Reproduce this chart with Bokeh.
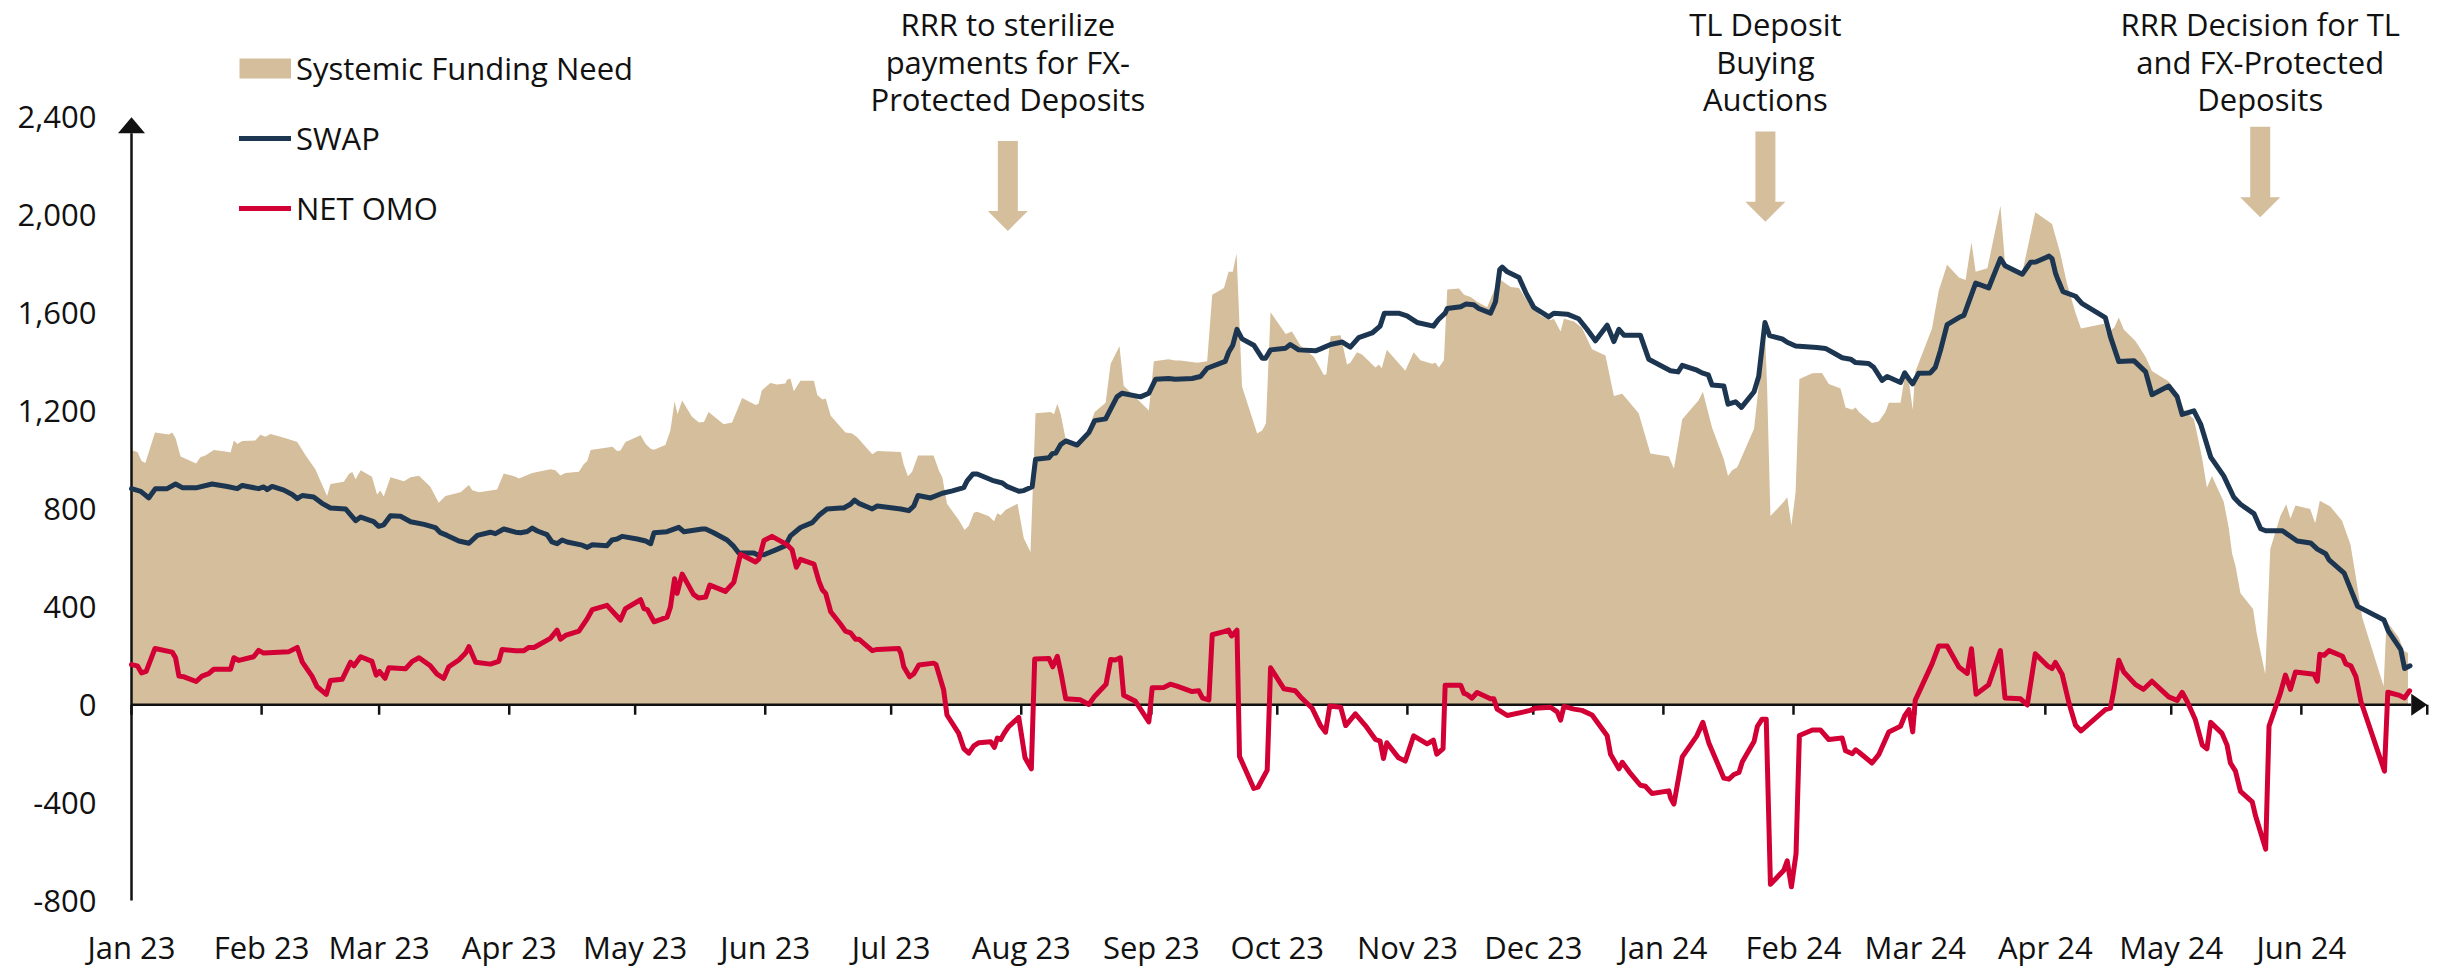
import pandas as pd
from bokeh.plotting import figure
from bokeh.models import Range1d, FixedTicker, NumeralTickFormatter, Legend, LegendItem
from bokeh.embed import file_html
from bokeh.resources import INLINE
from bokeh.core.properties import value

# ---------------- data (x = days since 1 Jan 2023) ----------------
sfn_day = [0, 1.4, 2.4, 3.3, 5.6, 8.9, 9.7, 10.5, 11.7, 15.4, 16.4, 17.6, 19.6, 22.4, 23.6, 24.4, 25.2, 26.4, 29.5, 30.7,
           31.9, 33.1, 35.9, 37.3, 39.5, 41.5, 43.8, 46.6, 47.4, 50.6, 51.8, 52.6, 53.4, 54.6, 57.3, 58.5, 59.3, 60.1, 61.7, 64.9,
           66.5, 68.5, 71.2, 73.2, 74.8, 78.4, 80.4, 81.2, 82.8, 87.1, 88.7, 91.5,
           92.3, 95.5, 99.8, 101.0, 102.2, 103.4, 106.6, 107.8, 108.6, 109.4, 114.6, 115.7, 116.5, 117.7, 121.3, 122.5, 123.7, 124.5,
           127.2, 128.4, 129.4, 130.1, 131.2, 133.5, 135.2, 136.4, 137.5, 141.1, 143.1, 145.5, 148.7, 149.4, 150.2, 152.2, 153.8, 155.8,
           156.2, 157.0, 157.8, 159.4, 162.6, 163.4, 164.6, 165.4, 166.6, 169.0, 170.1, 171.7, 172.9, 176.5, 177.7, 183.3,
           184.0, 185.0, 186.0, 187.4, 191.1, 192.4, 193.2, 194.3, 197.1, 198.5, 199.5, 200.7, 201.5, 204.3, 205.5, 206.3, 207.1, 208.3,
           211.1, 212.6, 214.2, 215.4, 219.0, 219.8, 220.6, 221.4, 222.6, 225.3, 227.7, 229.5, 232.1, 233.3, 235.4, 236.4, 242.4, 243.6,
           247.1, 248.7, 249.9, 253.9, 256.3, 257.5, 260.3, 261.4, 262.4, 263.3, 264.6, 268.2, 269.4, 270.3, 271.4, 275.0,
           276.5, 278.5, 281.7, 284.1, 284.7, 285.7, 288.1, 289.6, 290.4, 292.0, 293.2, 296.4, 297.2, 297.9, 299.1, 303.5, 305.5, 307.1,
           309.9, 310.7, 311.5, 312.7, 313.5, 316.3, 317.5, 319.1, 320.6, 323.0, 325.8, 328.6, 330.6, 333.0, 335.7, 338.1, 338.9, 340.5,
           341.3, 343.7, 345.6, 348.0, 351.2, 353.2, 355.2, 359.1, 361.9, 366.3,
           367.5, 369.5, 373.4, 374.4, 376.6, 379.4, 380.4, 381.4, 382.6, 386.6, 387.7, 389.2, 389.7, 390.5, 393.7, 394.5, 395.5, 396.5,
           397.4, 400.5, 402.8, 404.4, 407.2, 408.4, 410.0, 410.8, 411.6, 414.7, 416.3, 417.9, 418.7, 421.5, 422.7, 423.5, 424.4, 425.0,
           429.0, 430.6, 432.6, 435.4, 437.0, 438.4, 439.4, 442.2, 445.3, 446.4, 450.5, 453.6, 457.6,
           459.6, 461.2, 463.2, 464.5, 470.0, 470.7, 472.5, 473.5, 474.7, 477.5, 479.9, 481.4, 485.4, 487.4, 489.0, 491.4, 492.6, 493.4,
           494.5, 495.7, 498.5, 499.7, 500.5, 501.3, 502.5, 505.5, 506.4, 508.4, 509.6, 512.0, 513.4, 514.4, 515.6, 519.1, 520.3, 521.4,
           523.9, 526.7, 528.7, 529.9, 531.5, 536.6, 537.3, 540.2, 541.4, 542.4]
sfn_val = [1040, 1033, 996, 988, 1112, 1104, 1112, 1089, 1014, 986, 1011, 1018, 1041, 1035, 1031, 1080, 1065, 1078, 1080, 1103,
           1095, 1106, 1093, 1086, 1074, 1018, 962, 853, 902, 911, 943, 951, 921, 958, 932, 859, 875, 851, 930, 913,
           930, 936, 891, 825, 853, 868, 898, 876, 868, 879, 945, 932,
           924, 947, 962, 958, 937, 947, 952, 984, 996, 1041, 1054, 1037, 1039, 1074, 1101, 1065, 1046, 1042,
           1061, 1121, 1240, 1187, 1243, 1178, 1153, 1155, 1196, 1146, 1153, 1253, 1225, 1230, 1285, 1315, 1309, 1313,
           1328, 1333, 1281, 1324, 1324, 1266, 1247, 1251, 1181, 1134, 1112, 1108, 1093, 1024, 1037, 1033,
           981, 934, 952, 1018, 1018, 956, 928, 821, 755, 714, 731, 784, 789, 770, 750, 782, 774, 797,
           821, 680, 624, 1191, 1196, 1187, 1230, 1187, 1084, 1061, 1112, 1196, 1234, 1393, 1465, 1303, 1202, 1403,
           1412, 1407, 1407, 1397, 1403, 1675, 1703, 1769, 1769, 1844, 1300, 1108, 1121, 1149, 1604, 1515,
           1525, 1468, 1422, 1347, 1350, 1506, 1510, 1390, 1397, 1440, 1431, 1378, 1390, 1375, 1450, 1365, 1440, 1408,
           1393, 1397, 1378, 1408, 1697, 1701, 1675, 1666, 1647, 1624, 1741, 1707, 1703, 1637, 1590, 1572, 1577, 1525,
           1577, 1566, 1540, 1453, 1427, 1262, 1271, 1191, 1027, 1014,
           964, 1167, 1244, 1279, 1132, 1003, 935, 958, 970, 1128, 1302, 1524, 1302, 771, 829, 848, 732, 868,
           1331, 1354, 1356, 1311, 1292, 1215, 1205, 1215, 1196, 1151, 1157, 1196, 1234, 1234, 1360, 1321, 1205, 1360,
           1537, 1692, 1798, 1746, 1736, 1890, 1769, 1784, 2039, 1804, 1765, 2012, 1964,
           1842, 1717, 1601, 1537, 1557, 1514, 1543, 1582, 1533, 1485, 1421, 1364, 1321, 1273, 1205, 1167, 1070, 1003,
           887, 935, 829, 723, 617, 568, 456, 391, 288, 125, 636, 771, 819, 761, 814, 800, 742, 833,
           810, 752, 655, 530, 356, 76, 341, 275, 221, 211]

swap_day = [0, 2.2, 4.1, 5.7, 8.5, 10.5, 12.1, 15.6, 19.2, 22.8, 25.2, 26.4, 30.3, 31.5, 32.3, 33.5, 36.3, 38.3, 39.5, 40.7,
            43.4, 45.4, 47.4, 51.0, 53.4, 54.6, 57.7, 58.9, 60.1, 61.7, 64.1, 66.5, 69.7, 72.4, 73.6, 75.2, 78.0, 80.4, 82.4, 85.5,
            86.7, 88.7, 91.5,
            92.7, 94.3, 95.5, 96.7, 99.0, 100.2, 101.4, 102.6, 103.8, 107.4, 108.6, 109.8, 113.3, 114.5, 115.7, 116.9, 120.5, 122.5,
            123.7, 124.5, 127.6, 130.4, 131.6, 136.0, 136.8, 138.7, 141.9, 143.5, 144.7, 148.3, 149.1, 150.7, 153.8, 155.8, 157.0,
            159.4, 162.2, 163.8, 165.7, 168.9, 169.7, 171.3, 172.3, 173.3, 176.5, 177.7, 183.3,
            185.2, 186.4, 187.4, 190.4, 193.2, 195.6, 198.3, 199.1, 200.5, 201.5, 205.1, 207.5, 208.7, 211.5, 212.6, 214.6, 215.4,
            218.6, 219.4, 220.2, 221.4, 222.6, 225.3, 228.1, 229.5, 232.1, 234.8, 236.0, 240.4, 242.4, 244.0, 247.1, 248.7, 252.7,
            254.7, 256.3, 260.6, 261.4, 262.4, 263.4, 264.6, 267.4, 269.4, 270.2, 271.4, 275.0,
            276.1, 278.1, 282.1, 283.3, 285.7, 288.5, 290.4, 292.4, 295.6, 297.5, 298.5, 301.9, 303.9, 306.3, 310.2, 311.4, 313.0,
            313.5, 316.7, 317.9, 319.8, 321.0, 323.8, 325.0, 326.0, 326.6, 327.8, 330.6, 332.2, 334.1, 337.7, 338.9, 342.1, 344.8,
            346.8, 348.8, 351.6, 353.2, 354.4, 355.6, 359.5, 361.5, 366.7,
            367.1, 368.5, 369.5, 373.0, 374.2, 375.7, 376.6, 379.4, 380.4, 382.2, 383.6, 386.6, 387.7, 389.2, 390.3, 393.3, 394.5,
            396.5, 401.6, 403.6, 405.6, 407.6, 409.6, 410.8, 413.9, 415.1, 417.1, 418.3, 421.5, 422.5, 423.5, 424.4, 425.8, 428.6,
            429.8, 431.0, 432.6, 435.4, 436.6, 439.4, 442.5, 445.3, 446.4, 450.5, 452.5, 453.7, 456.9, 457.6, 458.4,
            458.8, 460.2, 463.2, 464.7, 470.3, 471.5, 473.5, 477.1, 479.9, 481.4, 485.4, 487.4, 488.6, 491.4, 493.0, 495.4, 498.5,
            500.9, 502.5, 505.7, 507.3, 508.5, 512.5, 516.0, 519.2, 520.8, 522.8, 523.6, 527.2, 530.4, 536.7, 537.7, 540.7, 541.6,
            542.9]
swap_val = [883, 872, 845, 883, 883, 902, 887, 887, 902, 892, 883, 896, 883, 890, 879, 892, 877, 859, 842, 855,
            849, 823, 804, 800, 752, 767, 748, 729, 735, 772, 770, 748, 737, 724, 703, 692, 669, 660, 692, 705,
            699, 718, 705,
            703, 708, 722, 710, 695, 665, 658, 673, 665, 652, 643, 654, 650, 673, 677, 688, 677, 669,
            658, 703, 707, 725, 707, 718, 718, 703, 673, 647, 620, 620, 613, 613, 635, 650, 690,
            724, 744, 774, 800, 804, 804, 819, 836, 823, 800, 812, 800,
            793, 812, 855, 845, 864, 874, 887, 915, 943, 943, 917, 906, 891, 872, 875, 891, 1003,
            1009, 1026, 1028, 1063, 1078, 1061, 1112, 1161, 1168, 1258, 1273, 1258, 1273, 1330, 1333, 1330, 1333,
            1341, 1375, 1403, 1440, 1469, 1534, 1495, 1469, 1416, 1416, 1450, 1457,
            1472, 1450, 1446, 1454, 1472, 1482, 1461, 1500, 1519, 1547, 1600, 1600, 1589, 1562, 1547, 1574, 1600,
            1619, 1626, 1637, 1634, 1619, 1600, 1647, 1778, 1788, 1769, 1746, 1684, 1624, 1585, 1600, 1596, 1577,
            1534, 1487, 1551, 1484, 1534, 1510, 1510, 1412, 1365,
            1364, 1360, 1387, 1367, 1356, 1348, 1306, 1302, 1228, 1238, 1215, 1279, 1341, 1562, 1508, 1495, 1481,
            1466, 1460, 1456, 1437, 1418, 1412, 1398, 1394, 1379, 1325, 1341, 1317, 1356, 1331, 1311, 1354, 1356,
            1379, 1447, 1553, 1582, 1591, 1723, 1703, 1823, 1794, 1759, 1808, 1809, 1833, 1823, 1765,
            1746, 1688, 1669, 1640, 1582, 1504, 1402, 1406, 1360, 1267, 1302, 1259, 1186, 1201, 1147, 1012, 935,
            848, 819, 781, 719, 711, 711, 669, 661, 636, 617, 592, 538, 402, 346, 302, 225, 148,
            159]

omo_day = [0, 1.4, 2.4, 3.5, 5.6, 9.7, 10.5, 11.3, 12.5, 15.4, 16.8, 18.4, 19.6, 23.6, 24.4, 25.6, 29.1, 30.3, 31.5, 37.5,
           39.5, 40.7, 43.0, 44.2, 46.4, 47.4, 50.2, 52.2, 53.0, 54.6, 57.3, 58.3, 59.1, 60.4, 61.3, 65.3, 66.9, 68.5, 71.2, 72.8,
           74.4, 75.6, 78.0, 79.6, 80.4, 82.0, 85.5, 87.5, 88.3, 91.5,
           93.5, 94.7, 95.9, 97.1, 99.8, 101.4, 102.2, 103.4, 106.6, 108.6, 109.8, 113.3, 116.5, 117.7, 121.3, 122.1, 122.9, 124.5,
           127.6, 128.4, 129.4, 130.0, 131.2, 133.9, 135.1, 136.8, 137.8, 141.5, 143.5, 145.1, 148.7, 149.5, 150.7, 152.6, 156.2,
           157.4, 158.4, 159.4, 162.6, 163.8, 164.6, 165.4, 166.6, 169.0, 170.1, 171.3, 172.5, 173.3, 176.5, 177.7, 182.8, 183.3,
           184.0, 185.4, 186.4, 187.6, 191.1, 191.7, 193.5, 194.3, 197.1, 198.3, 199.5, 200.7, 201.9, 204.7, 205.6, 206.3, 207.1,
           207.9, 209.0, 211.4, 212.9, 214.4, 215.2, 218.6, 219.5, 220.6, 221.6, 222.6, 226.1, 228.1, 229.5, 232.2, 233.3, 234.4,
           235.6, 236.4, 239.2, 242.4, 243.2, 245.9, 247.5, 249.1, 252.7, 254.3, 255.2, 256.7, 257.5, 260.3, 261.4, 262.1, 263.4,
           264.0, 267.4, 268.4, 270.6, 271.4, 274.6,
           277.3, 278.5, 281.3, 283.3, 284.5, 285.5, 288.1, 289.3, 291.6, 294.0, 296.4, 297.5, 298.3, 299.1, 301.9, 303.5, 305.5,
           308.7, 310.2, 311.0, 312.5, 313.0, 316.7, 317.5, 318.2, 319.4, 320.6, 323.8, 324.6, 325.4, 327.8, 331.8, 333.3, 334.5,
           338.1, 339.7, 340.5, 341.3, 343.7, 345.6, 348.0, 349.6, 351.6, 352.4, 354.4, 355.2, 356.8, 359.5, 360.7, 362.3, 366.3,
           366.7,
           367.5, 369.5, 373.0, 374.4, 375.8, 379.4, 380.6, 381.8, 383.0, 383.8, 386.6, 387.4, 388.5, 389.5, 390.5, 393.7, 394.5,
           395.5, 396.6, 397.4, 400.5, 402.4, 404.4, 407.6, 408.4, 410.0, 410.8, 411.6, 414.7, 416.3, 418.7, 421.5, 422.5, 423.5,
           424.4, 425.0, 429.0, 430.6, 432.6, 435.4, 437.4, 438.4, 439.5, 442.5, 445.3, 446.4, 450.1, 451.7, 453.6, 456.5, 457.6,
           458.4,
           460.0, 461.6, 463.2, 464.5, 470.3, 471.5, 472.3, 473.5, 474.7, 477.5, 479.4, 481.4, 485.4, 487.4, 488.6, 489.8, 491.7,
           493.4, 494.5, 495.4, 498.1, 499.3, 500.1, 501.3, 502.5, 505.3, 506.1, 507.3, 508.5, 509.3, 512.0, 513.2, 514.4, 515.6,
           520.0, 520.8, 521.4, 522.4, 523.6, 526.8, 527.6, 528.8, 530.0, 531.2, 536.8, 537.6, 540.4, 541.6, 542.8]
omo_val = [164, 159, 130, 136, 230, 215, 192, 117, 114, 95, 117, 127, 145, 145, 192, 181, 196, 222, 211, 217,
           234, 174, 117, 74, 42, 99, 104, 174, 159, 196, 177, 121, 136, 108, 151, 147, 177, 192, 159, 125,
           108, 155, 183, 211, 237, 174, 166, 177, 226, 221,
           221, 234, 234, 245, 271, 305, 268, 283, 301, 352, 389, 406, 346, 393, 429, 393, 389, 339,
           358, 399, 515, 455, 534, 451, 436, 440, 489, 463, 500, 615, 583, 596, 671, 688, 654,
           633, 562, 594, 575, 504, 470, 455, 380, 328, 301, 294, 268, 268, 221, 226, 230, 211,
           155, 114, 127, 162, 170, 164, 61, -42, -117, -179, -198, -168, -155, -151, -174, -136, -142,
           -117, -89, -52, -217, -262, 187, 189, 155, 198, 117, 24, 20, 1, 35, 84, 185, 183,
           192, 39, 14, -70, 69, 70, 84, 76, 54, 57, 27, 20, 286, 299, 305, 281, 305,
           -211, -342, -337, -267, 151, 65,
           57, 33, -14, -85, -112, -5, -10, -85, -37, -85, -142, -149, -220, -155, -217, -230, -127,
           -160, -145, -202, -179, 80, 80, 46, 42, 27, 50, 24, 24, -18, -44, -29, -23, -14,
           -10, -29, -63, -7, -18, -23, -42, -80, -127, -202, -262, -235, -273, -329, -333, -363, -352,
           -380,
           -406, -213, -126, -72, -155, -300, -304, -285, -277, -233, -150, -88, -59, -59, -734, -676, -638,
           -744, -609, -126, -103, -103, -142, -136, -188, -200, -184, -194, -238, -204, -111, -88, -45, -20,
           -111, 18, 167, 240, 240, 154, 128, 229, 43, 82, 221, 28, 24, -1, 208, 159, 148,
           173,
           125, 9, -84, -107, -20, -14, 57, 182, 134, 82, 63, 96, 32, 18, 51, 13, -59,
           -165, -180, -72, -117, -165, -238, -271, -354, -397, -455, -522, -590, -88, 47, 121, 63, 134,
           125, 96, 206, 202, 221, 198, 167, 159, 115, 13, -271, 51, 38, 28, 57]

assert len(sfn_day) == len(sfn_val), (len(sfn_day), len(sfn_val))
assert len(swap_day) == len(swap_val), (len(swap_day), len(swap_val))
assert len(omo_day) == len(omo_val), (len(omo_day), len(omo_val))

month_labels = ["Jan 23", "Feb 23", "Mar 23", "Apr 23", "May 23", "Jun 23", "Jul 23", "Aug 23", "Sep 23",
                "Oct 23", "Nov 23", "Dec 23", "Jan 24", "Feb 24", "Mar 24", "Apr 24", "May 24", "Jun 24"]
y_ticks = [-800, -400, 0, 400, 800, 1200, 1600, 2000, 2400]

event_day = [208.8, 389.3, 507.2]
event_lines = [["RRR to sterilize", "payments for FX-", "Protected Deposits"],
               ["TL Deposit", "Buying", "Auctions"],
               ["RRR Decision for TL", "and FX-Protected", "Deposits"]]
event_line_y = [2782, 2628, 2474]
event_arrow_top = [2303, 2342, 2362]
event_arrow_tip = [1936, 1974, 1992]

legend_labels = ["Systemic Funding Need", "SWAP", "NET OMO"]

# ---------------- style / geometry ----------------
TAN = "#D4BE9B"
NAVY = "#1C3550"
RED = "#D20034"
INK = "#111111"
FONT = "Open Sans"

W, H = 2440, 970
MB_L, MB_B = 110, 44
PX_DAY = 4.197          # pixels per day
PX_UNIT = 0.245         # pixels per value unit
AXIS_X_PX = 131         # page x of 1 Jan 2023 (y axis)
TOP_PX = 117            # page y of the 2,400 level
x_start = -(AXIS_X_PX - MB_L) / PX_DAY
x_end = x_start + (W - MB_L) / PX_DAY
y_end = 2400 + TOP_PX / PX_UNIT
y_start = y_end - (H - MB_B) / PX_UNIT
frame_bottom_px = H - MB_B

origin = pd.Timestamp("2023-01-01")
month_starts = pd.date_range("2023-01-01", "2024-07-01", freq="MS")
month_days = [int((d - origin).days) for d in month_starts]

p = figure(width=W, height=H, output_backend="svg", toolbar_location=None,
           x_range=Range1d(x_start, x_end), y_range=Range1d(y_start, y_end),
           min_border_left=MB_L, min_border_right=0, min_border_top=0, min_border_bottom=MB_B)
p.outline_line_color = None
p.grid.visible = False
p.background_fill_color = "white"
p.border_fill_color = "white"

# area
p.varea(x=sfn_day, y1=0, y2=sfn_val, fill_color=TAN, fill_alpha=1.0)

# axis lines (glyphs so they sit over the area but under the series)
y_head = 16 / PX_UNIT
x_head = 16 / PX_DAY
x_tip = month_days[-1]
p.segment(x0=[0, 0], y0=[-800, 0], x1=[0, x_tip - x_head], y1=[2400 - y_head, 0],
          line_color=INK, line_width=2.5)
p.segment(x0=month_days, y0=[0] * len(month_days), x1=month_days, y1=[-10 / PX_UNIT] * len(month_days),
          line_color=INK, line_width=2.5)
p.patches(xs=[[-13.5 / PX_DAY, 13.5 / PX_DAY, 0], [x_tip - x_head, x_tip - x_head, x_tip]],
          ys=[[2400 - y_head, 2400 - y_head, 2400], [11 / PX_UNIT, -11 / PX_UNIT, 0]],
          fill_color=INK, line_color=None)

# series
swap_r = p.line(swap_day, swap_val, line_color=NAVY, line_width=5, line_join="round", line_cap="round")
omo_r = p.line(omo_day, omo_val, line_color=RED, line_width=5, line_join="round", line_cap="round")
sfn_key = p.line(x=[sfn_day[0]], y=[0], line_color=TAN, line_width=20, line_cap="butt")

# event arrows + texts
sw, hw, hl = 10 / PX_DAY, 20 / PX_DAY, 20 / PX_UNIT
axs, ays = [], []
for d, top, tip in zip(event_day, event_arrow_top, event_arrow_tip):
    axs.append([d - sw, d + sw, d + sw, d + hw, d, d - hw, d - sw])
    ays.append([top, top, tip + hl, tip + hl, tip, tip + hl, tip + hl])
p.patches(xs=axs, ys=ays, fill_color=TAN, line_color=None)

tx, ty, tt = [], [], []
for d, lines in zip(event_day, event_lines):
    for ly, s in zip(event_line_y, lines):
        tx.append(d)
        ty.append(ly)
        tt.append(s)
p.text(x=tx, y=ty, text=tt, text_font=value(FONT), text_font_size="31px", text_color=INK,
       text_align="center", text_baseline="alphabetic")

# axes (labels only)
p.xaxis.ticker = FixedTicker(ticks=month_days[:len(month_labels)])
p.xaxis.major_label_overrides = {d: lab for d, lab in zip(month_days, month_labels)}
p.xaxis.axis_line_color = None
p.xaxis.major_tick_line_color = None
p.xaxis.minor_tick_line_color = None
p.xaxis.major_tick_out = 0
p.xaxis.major_tick_in = 0
p.xaxis.major_label_standoff = 0
p.xaxis.major_label_text_font = FONT
p.xaxis.major_label_text_font_size = "31px"
p.xaxis.major_label_text_color = INK

p.yaxis.ticker = FixedTicker(ticks=y_ticks)
p.yaxis.formatter = NumeralTickFormatter(format="0,0")
p.yaxis.axis_line_color = None
p.yaxis.major_tick_line_color = None
p.yaxis.minor_tick_line_color = None
p.yaxis.major_tick_out = 0
p.yaxis.major_tick_in = 0
p.yaxis.major_label_standoff = 14
p.yaxis.major_label_text_font = FONT
p.yaxis.major_label_text_font_size = "31px"
p.yaxis.major_label_text_color = INK

# legend: rows centred at page y 69 / 139 / 209, keys from x 239 to 291
legend = Legend(
    items=[LegendItem(label=legend_labels[0], renderers=[sfn_key]),
           LegendItem(label=legend_labels[1], renderers=[swap_r]),
           LegendItem(label=legend_labels[2], renderers=[omo_r])],
    location=(239 - MB_L, frame_bottom_px - 230),
    orientation="vertical", padding=0, margin=0, spacing=28,
    glyph_width=52, glyph_height=42, label_height=42, label_standoff=5,
    label_text_font=FONT, label_text_font_size="31px", label_text_color=INK,
    border_line_color=None, background_fill_alpha=0)
p.add_layout(legend)

open("out.html", "w").write(file_html(p, INLINE))
